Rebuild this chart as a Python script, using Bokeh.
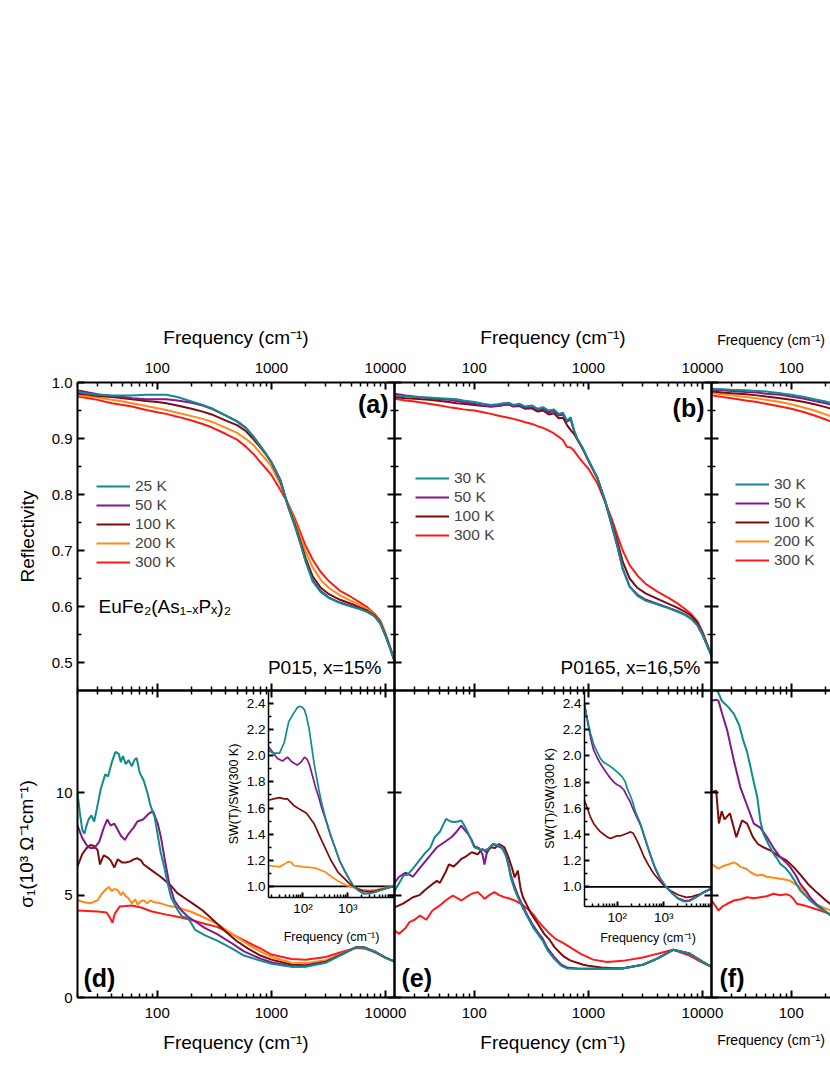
import math
from bokeh.plotting import figure
from bokeh.models import (Range1d, LogScale, LinearScale, LogAxis, LinearAxis, Grid,
                          FixedTicker, PrintfTickFormatter, Legend, LegendItem, Label)
from bokeh.embed import file_html
from bokeh.resources import INLINE

# ======================= DATA =======================
# ---- (a) reflectivity, P015 x=15% ----
FA = [20, 25, 30, 40, 50, 60, 80, 100, 120, 150, 200, 250, 300, 400, 500, 600, 700, 800, 900, 1000,
      1200, 1400, 1600, 1800, 2000, 2300, 2700, 3200, 4000, 5000, 6000, 7000, 8000, 9000, 10000, 11000, 12000]
RA_25 = [0.983, 0.980, 0.978, 0.977, 0.977, 0.977, 0.978, 0.978, 0.978, 0.974, 0.966, 0.960, 0.954, 0.941, 0.930,
         0.918, 0.902, 0.886, 0.872, 0.858, 0.826, 0.778, 0.745, 0.712, 0.680, 0.645, 0.626, 0.615, 0.606, 0.600,
         0.595, 0.590, 0.583, 0.570, 0.548, 0.525, 0.503]
RA_50 = [0.986, 0.982, 0.979, 0.976, 0.974, 0.972, 0.970, 0.970, 0.970, 0.968, 0.964, 0.959, 0.953, 0.941, 0.931,
         0.919, 0.903, 0.887, 0.872, 0.858, 0.826, 0.779, 0.745, 0.712, 0.681, 0.647, 0.628, 0.616, 0.607, 0.601,
         0.596, 0.590, 0.583, 0.570, 0.548, 0.525, 0.503]
RA_100 = [0.980, 0.978, 0.976, 0.974, 0.972, 0.970, 0.967, 0.965, 0.963, 0.959, 0.953, 0.948, 0.943, 0.932, 0.924,
          0.913, 0.898, 0.884, 0.871, 0.857, 0.824, 0.780, 0.748, 0.716, 0.686, 0.654, 0.634, 0.622, 0.612, 0.605,
          0.598, 0.592, 0.584, 0.571, 0.549, 0.526, 0.503]
RA_200 = [0.977, 0.975, 0.973, 0.969, 0.966, 0.963, 0.958, 0.954, 0.951, 0.946, 0.940, 0.935, 0.930, 0.919, 0.910,
          0.899, 0.888, 0.874, 0.862, 0.850, 0.818, 0.783, 0.752, 0.724, 0.698, 0.670, 0.648, 0.633, 0.620, 0.610,
          0.602, 0.595, 0.585, 0.573, 0.550, 0.526, 0.503]
RA_300 = [0.975, 0.972, 0.969, 0.963, 0.960, 0.957, 0.951, 0.947, 0.944, 0.939, 0.932, 0.926, 0.920, 0.908, 0.898,
          0.885, 0.872, 0.858, 0.846, 0.835, 0.808, 0.784, 0.758, 0.732, 0.708, 0.684, 0.662, 0.645, 0.628, 0.617,
          0.607, 0.598, 0.587, 0.575, 0.552, 0.527, 0.503]

# ---- (b) reflectivity, P0165 x=16.5% ----
FB = [20, 25, 30, 40, 50, 60, 70, 80, 100, 120, 140, 160, 180, 200, 220, 250, 280, 320, 360, 400, 450, 500, 550,
      600, 650, 700, 750, 800, 900, 1000, 1200, 1400, 1600, 1800, 2000, 2300, 2700, 3200, 4000, 5000, 6000, 7000,
      8000, 9000, 10000, 11000, 12000]
RB_30 = [0.977, 0.975, 0.974, 0.973, 0.972, 0.971, 0.970, 0.968, 0.965, 0.962, 0.960, 0.961, 0.963, 0.964, 0.960,
         0.962, 0.957, 0.959, 0.953, 0.956, 0.950, 0.952, 0.944, 0.946, 0.932, 0.938, 0.915, 0.900, 0.882, 0.862,
         0.830, 0.790, 0.748, 0.708, 0.668, 0.635, 0.619, 0.610, 0.604, 0.597, 0.591, 0.585, 0.578, 0.567, 0.550,
         0.530, 0.512]
RB_50 = [0.980, 0.977, 0.975, 0.972, 0.970, 0.969, 0.967, 0.965, 0.962, 0.959, 0.957, 0.958, 0.960, 0.961, 0.958,
         0.959, 0.955, 0.956, 0.951, 0.953, 0.947, 0.949, 0.941, 0.943, 0.930, 0.934, 0.913, 0.899, 0.881, 0.861,
         0.830, 0.788, 0.745, 0.706, 0.667, 0.636, 0.621, 0.612, 0.605, 0.598, 0.592, 0.586, 0.578, 0.567, 0.550,
         0.530, 0.512]
RB_100 = [0.974, 0.972, 0.971, 0.969, 0.967, 0.965, 0.963, 0.962, 0.960, 0.958, 0.957, 0.958, 0.960, 0.961, 0.957,
          0.958, 0.953, 0.954, 0.948, 0.950, 0.943, 0.945, 0.936, 0.937, 0.924, 0.915, 0.908, 0.898, 0.880, 0.860,
          0.829, 0.789, 0.750, 0.715, 0.680, 0.650, 0.633, 0.623, 0.614, 0.605, 0.598, 0.591, 0.583, 0.571, 0.552,
          0.531, 0.512]
RB_300 = [0.971, 0.968, 0.966, 0.962, 0.959, 0.956, 0.954, 0.952, 0.950, 0.947, 0.944, 0.941, 0.939, 0.937, 0.935,
          0.932, 0.929, 0.926, 0.922, 0.919, 0.914, 0.909, 0.903, 0.897, 0.885, 0.884, 0.878, 0.870, 0.857, 0.846,
          0.820, 0.787, 0.757, 0.726, 0.700, 0.674, 0.655, 0.640, 0.627, 0.616, 0.606, 0.596, 0.586, 0.574, 0.555,
          0.533, 0.514]

# ---- (c) reflectivity, third sample (visible part only) ----
FC = [20, 25, 30, 40, 50, 60, 80, 100, 130, 160, 200, 250]
RC_30 = [0.989, 0.988, 0.987, 0.986, 0.985, 0.984, 0.981, 0.978, 0.974, 0.970, 0.966, 0.960]
RC_50 = [0.987, 0.986, 0.985, 0.983, 0.982, 0.980, 0.978, 0.975, 0.971, 0.967, 0.963, 0.957]
RC_100 = [0.984, 0.982, 0.981, 0.979, 0.977, 0.975, 0.972, 0.969, 0.965, 0.961, 0.956, 0.950]
RC_200 = [0.981, 0.979, 0.977, 0.974, 0.972, 0.969, 0.965, 0.961, 0.955, 0.950, 0.943, 0.936]
RC_300 = [0.977, 0.974, 0.972, 0.968, 0.965, 0.962, 0.957, 0.953, 0.947, 0.941, 0.934, 0.926]

# ---- (d) sigma1 (10^3 Ohm^-1 cm^-1), P015 ----
FD_25 = [20, 21, 22, 23, 24, 25, 26.5, 28, 30, 32, 35, 37, 40, 43, 46, 48, 50, 53, 56, 60, 63, 66, 70, 76, 82,
         87, 95, 107, 115, 123, 132, 150, 165, 185, 200, 215, 260, 335, 450, 575, 800, 1000, 1500, 2000, 3000,
         4000, 5500, 6500, 8000, 10000, 12000]
SD_25 = [10.0, 9.0, 8.2, 8.0, 8.4, 8.7, 8.9, 8.6, 9.4, 10.2, 10.9, 10.8, 11.5, 12.0, 11.9, 11.5, 11.8, 11.4, 11.6,
         11.3, 11.6, 11.7, 11.0, 10.6, 10.0, 9.4, 8.8, 7.1, 6.4, 5.6, 4.9, 4.3, 3.95, 3.9, 3.6, 3.3, 3.05, 2.78,
         2.4, 2.05, 1.8, 1.65, 1.5, 1.5, 1.7, 2.05, 2.45, 2.45, 2.25, 1.95, 1.75]
FD_50 = [20, 22, 24, 26, 28, 31, 34, 36.5, 39, 42, 45, 48, 52, 56, 62, 67, 75, 85, 92, 101, 108, 115, 127, 141,
         160, 185, 210, 260, 335, 450, 575, 800, 1000, 1500, 2000, 3000, 4000, 5500, 6500, 8000, 10000, 12000]
SD_50 = [8.4, 7.8, 7.45, 7.3, 7.3, 7.6, 8.3, 8.7, 8.4, 8.5, 8.2, 7.9, 7.7, 8.0, 8.3, 8.6, 8.7, 9.0, 9.1, 8.5, 7.8,
         6.9, 5.6, 4.75, 4.3, 3.95, 3.75, 3.4, 3.1, 2.65, 2.25, 1.9, 1.72, 1.52, 1.52, 1.72, 2.07, 2.45, 2.45, 2.25,
         1.95, 1.75]
FD_100 = [20, 22, 24, 26, 28, 30, 31.5, 33, 34, 36.6, 39, 42, 45, 49, 53, 58, 62, 67, 72, 76, 90, 107, 130, 150,
          180, 210, 250, 294, 335, 410, 500, 620, 800, 1000, 1500, 2000, 3000, 4000, 5500, 6500, 8000, 10000, 12000]
SD_100 = [6.4, 7.0, 7.3, 7.45, 7.4, 7.2, 6.5, 6.8, 6.95, 6.85, 6.7, 6.35, 6.75, 6.6, 6.6, 6.65, 6.75, 6.8, 6.7,
          6.5, 6.2, 5.9, 5.5, 5.1, 4.8, 4.55, 4.25, 3.9, 3.6, 3.15, 2.75, 2.4, 2.05, 1.85, 1.6, 1.58, 1.75, 2.07,
          2.45, 2.45, 2.25, 1.95, 1.75]
FD_200 = [20, 23, 26, 30, 33, 35, 37.5, 40, 42, 45, 48, 50, 53, 56, 60, 64, 67, 72, 76, 82, 87, 95, 107, 123, 150,
          196, 255, 335, 410, 500, 620, 800, 1000, 1500, 2000, 3000, 4000, 5500, 6500, 8000, 10000, 12000]
SD_200 = [4.75, 4.65, 4.6, 4.75, 5.1, 5.25, 5.4, 5.2, 5.3, 5.25, 5.0, 5.15, 4.95, 4.85, 4.6, 4.8, 4.55, 4.7, 4.75,
          4.6, 4.75, 4.65, 4.6, 4.5, 4.4, 4.2, 3.92, 3.6, 3.27, 2.95, 2.6, 2.25, 1.98, 1.7, 1.68, 1.82, 2.1, 2.45,
          2.43, 2.23, 1.95, 1.75]
FD_300 = [20, 30, 36, 38.5, 40.5, 42.5, 47, 60, 72, 90, 120, 150, 196, 260, 335, 450, 620, 800, 1000, 1500, 2000,
          3000, 4000, 5500, 6500, 8000, 10000, 12000]
SD_300 = [4.25, 4.2, 4.15, 3.9, 3.65, 4.1, 4.45, 4.5, 4.4, 4.2, 4.05, 3.95, 3.8, 3.6, 3.45, 3.1, 2.7, 2.4, 2.1,
          1.88, 1.85, 1.98, 2.2, 2.42, 2.4, 2.22, 1.95, 1.75]

# ---- (e) sigma1, P0165 ----
FE_30 = [20, 22, 24, 26, 29, 33, 36.6, 41, 45, 50, 53, 56.6, 62, 67, 72, 77, 82, 87.7, 94, 100, 110, 123, 135,
         146, 160, 175, 190, 200, 210, 225, 241, 265, 294, 330, 360, 400, 440, 500, 575, 650, 800, 1040, 1500,
         2000, 3000, 3970, 5540, 7700, 10000, 12000]
SE_30 = [5.2, 5.6, 5.96, 6.0, 6.3, 6.7, 7.02, 7.3, 7.83, 8.1, 8.4, 8.73, 8.6, 8.57, 8.6, 8.65, 8.4, 8.08, 7.7,
         7.34, 7.25, 7.18, 7.3, 7.5, 7.45, 7.34, 6.9, 6.4, 5.8, 5.3, 4.9, 4.4, 3.92, 3.4, 3.11, 2.75, 2.3, 1.9,
         1.56, 1.42, 1.4, 1.4, 1.4, 1.42, 1.6, 1.89, 2.33, 2.15, 1.75, 1.5]
FE_50 = [20, 22, 25, 29, 33, 36.6, 42, 47, 55, 63, 70, 77, 82, 88, 95, 100, 110, 118, 123, 128, 135, 146, 160,
         175, 190, 200, 210, 225, 241, 265, 294, 330, 360, 400, 440, 500, 575, 650, 800, 1040, 1500, 2000, 3000,
         3970, 5540, 7700, 10000, 12000]
SE_50 = [5.6, 5.9, 6.1, 5.9, 6.3, 6.6, 7.0, 7.34, 7.6, 7.83, 8.1, 8.4, 8.2, 8.0, 7.7, 7.4, 7.3, 7.0, 6.5, 7.0,
         7.3, 7.5, 7.4, 7.3, 7.0, 6.5, 5.95, 5.45, 5.0, 4.5, 4.0, 3.5, 3.2, 2.85, 2.4, 2.0, 1.62, 1.47, 1.42, 1.41,
         1.4, 1.42, 1.6, 1.89, 2.33, 2.15, 1.75, 1.5]
FE_100 = [20, 24, 29, 33, 36.6, 42, 47, 50, 56, 60, 66, 72, 77, 85, 95, 107, 118, 128, 140, 152, 165, 184, 202,
          215, 226, 241, 255, 267, 290, 315, 360, 410, 460, 505, 560, 620, 700, 800, 900, 1000, 1300, 1700, 2000,
          3000, 3970, 5540, 7700, 10000, 12000]
SE_100 = [4.4, 4.6, 4.9, 5.0, 5.23, 5.5, 5.7, 5.6, 6.12, 6.5, 6.4, 6.6, 6.77, 6.9, 7.1, 7.0, 7.26, 7.1, 7.34, 7.3,
          7.5, 7.34, 6.77, 6.3, 5.87, 6.2, 5.3, 4.9, 4.5, 4.09, 3.6, 3.11, 2.8, 2.46, 2.2, 1.97, 1.8, 1.7, 1.6,
          1.55, 1.47, 1.43, 1.43, 1.6, 1.89, 2.33, 2.15, 1.75, 1.5]
FE_300 = [20, 22, 25, 27, 30, 33.5, 38, 43, 50, 56, 65, 77, 85, 95, 107, 115, 123, 135, 150, 165, 184, 200, 226,
          260, 294, 330, 360, 410, 460, 520, 620, 740, 858, 1100, 1460, 2000, 3000, 3970, 5540, 7700, 10000, 12000]
SE_300 = [3.27, 3.11, 3.4, 3.68, 3.8, 4.0, 3.8, 4.25, 4.5, 4.74, 4.98, 4.74, 4.9, 5.07, 5.15, 5.0, 4.82, 5.0,
          5.15, 5.0, 4.9, 4.85, 4.74, 4.55, 4.33, 4.05, 3.76, 3.4, 3.11, 2.85, 2.62, 2.35, 2.13, 1.85, 1.73, 1.79,
          1.95, 2.13, 2.33, 2.05, 1.7, 1.5]

# ---- (f) sigma1, third sample (visible part only) ----
FF_30 = [22.5, 24.6, 28, 31.4, 35, 38, 41, 44, 47, 50.4, 53.5, 57, 63, 70, 75, 80, 90, 98, 110, 120, 135, 146,
         170, 200, 240]
SF_30 = [15.0, 14.5, 14.2, 13.86, 13.3, 12.55, 12.0, 11.25, 10.5, 9.78, 8.65, 8.0, 7.5, 7.02, 6.8, 6.53, 6.3,
         6.04, 5.6, 5.23, 4.95, 4.74, 4.45, 4.2, 3.9]
FF_50 = [20, 22, 23, 25, 27.5, 31.4, 35.8, 41, 47, 53.5, 61, 70, 80, 90, 98, 110, 120, 135, 146, 170, 200, 240]
SF_50 = [14.5, 14.55, 14.5, 13.8, 13.04, 11.58, 10.27, 9.38, 8.5, 8.3, 7.85, 7.3, 6.86, 6.6, 6.37, 5.95, 5.55,
         5.2, 4.9, 4.5, 4.2, 3.85]
FF_100 = [20, 22, 23.2, 24.6, 26, 29, 33, 37, 41, 46, 51, 57, 66, 80, 91, 105, 120, 140, 170, 200, 240]
SF_100 = [10.03, 10.1, 8.5, 9.1, 8.7, 9.0, 7.83, 8.65, 8.5, 7.85, 7.5, 7.34, 7.18, 6.86, 6.7, 6.37, 6.0, 5.55,
          5.1, 4.75, 4.4]
FF_200 = [20, 23, 26, 28, 31.4, 34, 36, 40, 44, 50, 55, 61, 70, 80, 90, 98, 110, 120, 140, 160, 200, 240]
SF_200 = [6.53, 6.3, 6.45, 6.5, 6.6, 6.5, 6.37, 6.3, 6.12, 5.96, 6.0, 5.9, 5.85, 5.8, 5.75, 5.7, 5.5, 5.39, 5.0,
          4.58, 4.35, 4.2]
FF_300 = [20, 21.5, 23, 25, 27.5, 31.4, 36, 41, 47, 53.5, 61, 70, 80, 90, 98, 105, 112, 130, 146, 180, 240]
SF_300 = [4.74, 4.5, 4.25, 4.45, 4.58, 4.74, 4.8, 4.9, 4.85, 4.9, 4.95, 5.07, 5.0, 5.05, 4.98, 4.8, 4.58, 4.5,
          4.41, 4.25, 4.0]

# ---- inset of (d): SW(T)/SW(300 K) ----
FID_25 = [17, 22, 30, 38, 48, 58, 66, 75, 85, 98, 108, 120, 138, 155, 177, 200, 226, 260, 314, 400, 515, 650, 845,
          1100, 1360, 1700, 2230, 3000, 4000, 6000, 8000, 11000]
VD_25 = [2.04, 2.02, 2.02, 2.1, 2.26, 2.31, 2.34, 2.37, 2.38, 2.37, 2.35, 2.3, 2.2, 2.08, 1.94, 1.84, 1.74, 1.64,
         1.53, 1.41, 1.3, 1.2, 1.12, 1.05, 1.0, 0.97, 0.944, 0.945, 0.955, 0.975, 0.99, 1.0]
FID_50 = [17, 22, 27, 35, 45, 58, 74, 90, 108, 125, 140, 165, 190, 226, 262, 314, 420, 515, 650, 845, 1100, 1360,
          1700, 2230, 3000, 4000, 6000, 8000, 11000]
VD_50 = [2.07, 2.02, 1.98, 1.96, 1.99, 1.95, 1.93, 1.95, 1.99, 1.97, 1.93, 1.84, 1.76, 1.68, 1.6, 1.52, 1.38, 1.3,
         1.2, 1.12, 1.05, 1.0, 0.97, 0.947, 0.948, 0.957, 0.976, 0.99, 1.0]
FID_100 = [17, 22, 30, 38, 45, 62, 85, 120, 177, 262, 420, 600, 845, 1100, 1360, 1700, 2230, 3000, 4000, 6000,
           8000, 11000]
VD_100 = [1.66, 1.67, 1.68, 1.67, 1.67, 1.62, 1.59, 1.56, 1.48, 1.35, 1.2, 1.11, 1.06, 1.02, 1.0, 0.98, 0.965,
          0.96, 0.965, 0.98, 0.99, 1.0]
FID_200 = [17, 22, 30, 38, 48, 55, 62, 80, 100, 140, 190, 314, 450, 620, 900, 1360, 2000, 3000, 4500, 6500, 11000]
VD_200 = [1.16, 1.155, 1.15, 1.17, 1.19, 1.185, 1.16, 1.155, 1.15, 1.145, 1.14, 1.11, 1.07, 1.04, 1.01, 0.99,
          0.975, 0.97, 0.975, 0.99, 1.0]
FID_REF = [17, 11000]
VD_REF = [1.0, 1.0]

# ---- inset of (e) ----
FIE_30 = [20, 23, 27, 32, 37.4, 44, 52, 65, 85, 105, 129, 150, 165, 190, 210, 250, 318, 400, 515, 650, 830, 1130,
          1500, 2000, 2740, 3500, 5000, 7000, 10500]
VE_30 = [2.39, 2.28, 2.17, 2.08, 2.03, 1.98, 1.95, 1.93, 1.9, 1.87, 1.84, 1.8, 1.75, 1.7, 1.66, 1.57, 1.48, 1.37,
         1.25, 1.15, 1.07, 1.0, 0.95, 0.91, 0.887, 0.89, 0.92, 0.955, 0.985]
FIE_50 = [20, 23, 27, 31, 37, 44, 52, 65, 85, 100, 115, 140, 165, 190, 210, 250, 318, 400, 515, 650, 830, 1130,
          1500, 2000, 2740, 3500, 5000, 7000, 10500]
VE_50 = [2.4, 2.27, 2.14, 2.05, 1.99, 1.94, 1.9, 1.85, 1.8, 1.78, 1.77, 1.74, 1.69, 1.65, 1.61, 1.55, 1.47, 1.36,
         1.24, 1.14, 1.06, 0.995, 0.95, 0.915, 0.895, 0.897, 0.925, 0.96, 0.99]
FIE_100 = [20, 23, 27, 32, 37, 44, 52, 62, 72, 85, 100, 120, 140, 165, 194, 220, 270, 320, 375, 480, 610, 800,
           1000, 1400, 2000, 3000, 4000, 6000, 8000, 10500]
VE_100 = [1.66, 1.6, 1.53, 1.48, 1.45, 1.42, 1.4, 1.38, 1.37, 1.38, 1.39, 1.39, 1.4, 1.41, 1.42, 1.41, 1.35,
          1.29, 1.23, 1.16, 1.1, 1.05, 1.01, 0.97, 0.94, 0.92, 0.925, 0.945, 0.965, 0.985]
FIE_REF = [20, 10500]
VE_REF = [1.0, 1.0]

# tick values
F_MAJOR = [100, 1000, 10000]
F_MINOR = [20, 30, 40, 50, 60, 70, 80, 90, 200, 300, 400, 500, 600, 700, 800, 900,
           2000, 3000, 4000, 5000, 6000, 7000, 8000, 9000]
R_TICKS = [0.5, 0.6, 0.7, 0.8, 0.9, 1.0]
R_MINOR = [0.55, 0.65, 0.75, 0.85, 0.95]
S_TICKS = [0, 5, 10]
V_TICKS = [1.0, 1.2, 1.4, 1.6, 1.8, 2.0, 2.2, 2.4]
V_MINOR = [0.9, 1.1, 1.3, 1.5, 1.7, 1.9, 2.1, 2.3]
I_MAJOR = [100, 1000]
I_MINOR = [20, 30, 40, 50, 60, 70, 80, 90, 200, 300, 400, 500, 600, 700, 800, 900,
           2000, 3000, 4000, 5000, 6000, 7000, 8000, 9000, 10000]

# ======================= STYLE / LAYOUT =======================
TEAL, PURPLE, MAROON, ORANGE, RED = "#118b8b", "#84168e", "#7d0d0d", "#ff8a14", "#ff1a1a"
FONT = "Liberation Sans"
FREQ_TITLE = "Frequency (cm\u207b\u00b9)"

PX0, PY0 = 0, 0            # page offset of canvas (template has no body margin)
CW, CH = 830, 1060         # canvas size
COL_L = [77, 394, 711]     # left edge of each column frame (page px)
COL_W = 317
Y_TOP, Y_MID, Y_BOT = 382, 690, 997
F_LO, F_HI = 20, 12000
R_LO, R_HI = 0.45, 1.0
S_LO, S_HI = 0.0, 15.0
INS = {"d": dict(x0=268, x1=394, y0=690, y1=897, f=(17, 11000), v=(0.915, 2.5), title_off=11),
       "e": dict(x0=584, x1=711, y0=690, y1=906, f=(20, 10500), v=(0.85, 2.5), title_off=3)}


def log_range(px0, px1, v0, v1):
    a, b = math.log10(v0), math.log10(v1)
    k = (b - a) / (px1 - px0)
    return Range1d(10 ** (a + (PX0 - px0) * k), 10 ** (a + (PX0 + CW - px0) * k))


def lin_yrange(py_top, py_bot, v_top, v_bot):
    k = (v_top - v_bot) / (py_bot - py_top)
    return Range1d(v_bot - (PY0 + CH - py_bot) * k, v_top + (py_top - PY0) * k)


def fx(col, px):
    return 10 ** (math.log10(F_LO) + (px - COL_L[col]) / COL_W * math.log10(F_HI / F_LO))


def ry(py):
    return R_HI - (py - Y_TOP) / (Y_MID - Y_TOP) * (R_HI - R_LO)


def sy(py):
    return S_HI - (py - Y_MID) / (Y_BOT - Y_MID) * (S_HI - S_LO)


p = figure(width=CW, height=CH, x_range=Range1d(0, 1), y_range=Range1d(0, 1),
           x_axis_location=None, y_axis_location=None, toolbar_location=None,
           output_backend="svg", min_border=0)
p.outline_line_color = None
p.background_fill_color = "white"
p.border_fill_color = "white"
p.center = [r for r in p.center if not isinstance(r, Grid)]

xr = {f"c{k}": log_range(COL_L[k], COL_L[k] + COL_W, F_LO, F_HI) for k in range(3)}
for key, ins in INS.items():
    xr["i" + key] = log_range(ins["x0"], ins["x1"], *ins["f"])
p.extra_x_ranges = xr
p.extra_x_scales = {name: LogScale() for name in xr}
yr = {"R": lin_yrange(Y_TOP, Y_MID, R_HI, R_LO), "S": lin_yrange(Y_MID, Y_BOT, S_HI, S_LO)}
for key, ins in INS.items():
    yr["v" + key] = lin_yrange(ins["y0"], ins["y1"], ins["v"][1], ins["v"][0])
p.extra_y_ranges = yr
p.extra_y_scales = {name: LinearScale() for name in yr}


def draw(series, xname, yname, width=2.0):
    out = {}
    for label, xs, ys, color in series:
        out[label] = p.line(xs, ys, x_range_name=xname, y_range_name=yname,
                            line_color=color, line_width=width)
    return out


rs_a = draw([("300 K", FA, RA_300, RED), ("200 K", FA, RA_200, ORANGE), ("100 K", FA, RA_100, MAROON),
             ("50 K", FA, RA_50, PURPLE), ("25 K", FA, RA_25, TEAL)], "c0", "R")
rs_b = draw([("300 K", FB, RB_300, RED), ("100 K", FB, RB_100, MAROON),
             ("50 K", FB, RB_50, PURPLE), ("30 K", FB, RB_30, TEAL)], "c1", "R")
rs_c = draw([("300 K", FC, RC_300, RED), ("200 K", FC, RC_200, ORANGE), ("100 K", FC, RC_100, MAROON),
             ("50 K", FC, RC_50, PURPLE), ("30 K", FC, RC_30, TEAL)], "c2", "R")
draw([("300 K", FD_300, SD_300, RED), ("200 K", FD_200, SD_200, ORANGE), ("100 K", FD_100, SD_100, MAROON),
      ("50 K", FD_50, SD_50, PURPLE), ("25 K", FD_25, SD_25, TEAL)], "c0", "S")
draw([("300 K", FE_300, SE_300, RED), ("100 K", FE_100, SE_100, MAROON),
      ("50 K", FE_50, SE_50, PURPLE), ("30 K", FE_30, SE_30, TEAL)], "c1", "S")
draw([("300 K", FF_300, SF_300, RED), ("200 K", FF_200, SF_200, ORANGE), ("100 K", FF_100, SF_100, MAROON),
      ("50 K", FF_50, SF_50, PURPLE), ("30 K", FF_30, SF_30, TEAL)], "c2", "S")
draw([("300 K", FID_REF, VD_REF, "black"), ("200 K", FID_200, VD_200, ORANGE), ("100 K", FID_100, VD_100, MAROON),
      ("50 K", FID_50, VD_50, PURPLE), ("25 K", FID_25, VD_25, TEAL)], "id", "vd", 1.7)
draw([("300 K", FIE_REF, VE_REF, "black"), ("100 K", FIE_100, VE_100, MAROON),
      ("50 K", FIE_50, VE_50, PURPLE), ("30 K", FIE_30, VE_30, TEAL)], "ie", "ve", 1.7)


# ---------------- axes ----------------
def style(ax, tick_size="15px", title_size="19px", maj=7, mnr=4):
    ax.axis_line_width = 2
    ax.axis_line_color = "black"
    ax.major_tick_line_width = 2
    ax.minor_tick_line_width = 1.5
    ax.major_tick_line_color = "black"
    ax.minor_tick_line_color = "black"
    ax.major_tick_in = maj
    ax.major_tick_out = 0
    ax.minor_tick_in = mnr
    ax.minor_tick_out = 0
    ax.major_label_text_font = FONT
    ax.major_label_text_font_size = tick_size
    ax.major_label_text_color = "black"
    ax.axis_label_text_font = FONT
    ax.axis_label_text_font_size = title_size
    ax.axis_label_text_font_style = "normal"
    ax.axis_label_text_color = "black"


def freq_axis(k, yname, yloc, side, labels, title=None, lab_off=6, title_off=10):
    majors = F_MAJOR if k < 2 else [100]
    ax = LogAxis(x_range_name=f"c{k}", y_range_name=yname, fixed_location=yloc, bounds=(F_LO, F_HI),
                 ticker=FixedTicker(ticks=majors, minor_ticks=F_MINOR))
    style(ax)
    ax.major_label_overrides = {m: (str(m) if labels else "") for m in majors}
    ax.major_label_standoff = lab_off
    if title:
        ax.axis_label = title
        ax.axis_label_standoff = title_off
        if k == 2:   # the third column is cut by the page edge: keep its title inside
            ax.axis_label_text_font_size = "14px"
    p.add_layout(ax, side)


def val_axis(k, yname, side, ticks, minor, fmt, bounds, labels, title=None, title_off=10):
    xloc = F_LO if side == "left" else F_HI
    ax = LinearAxis(x_range_name=f"c{k}", y_range_name=yname, fixed_location=xloc, bounds=bounds,
                    ticker=FixedTicker(ticks=ticks, minor_ticks=minor),
                    formatter=PrintfTickFormatter(format=fmt))
    style(ax)
    ax.major_label_standoff = 5
    if not labels:
        ax.major_label_overrides = {t: "" for t in ticks}
    if title:
        ax.axis_label = title
        ax.axis_label_standoff = title_off
    p.add_layout(ax, side)


for k in range(3):
    freq_axis(k, "R", R_HI, "above", True, FREQ_TITLE, 10, 12)
    freq_axis(k, "R", R_LO, "below", False)
    freq_axis(k, "S", S_HI, "above", False)
    freq_axis(k, "S", S_LO, "below", True, FREQ_TITLE, 10, 11)
    val_axis(k, "R", "left", R_TICKS, R_MINOR, "%.1f", (R_LO, R_HI), k == 0,
             "Reflectivity" if k == 0 else None, 11)
    val_axis(k, "S", "left", S_TICKS, [], "%d", (S_LO, S_HI), k == 0,
             "\u03c3\u2081(10\u00b3 \u03a9\u207b\u00b9cm\u207b\u00b9)" if k == 0 else None, 16)
    if k < 2:
        val_axis(k, "R", "right", R_TICKS, R_MINOR, "%.1f", (R_LO, R_HI), False)
        val_axis(k, "S", "right", S_TICKS, [], "%d", (S_LO, S_HI), False)

for key, ins in INS.items():
    f0, f1 = ins["f"]
    v0, v1 = ins["v"]
    ly = LinearAxis(x_range_name="i" + key, y_range_name="v" + key, fixed_location=f0, bounds=(v0, v1),
                    ticker=FixedTicker(ticks=V_TICKS, minor_ticks=[m for m in V_MINOR if m > v0]),
                    formatter=PrintfTickFormatter(format="%.1f"))
    style(ly, "13.5px", "12.5px", 5, 3)
    ly.axis_line_width = 1.5
    ly.major_label_standoff = 3
    ly.axis_label = "SW(T)/SW(300 K)"
    ly.axis_label_standoff = 3
    p.add_layout(ly, "left")
    lx = LogAxis(x_range_name="i" + key, y_range_name="v" + key, fixed_location=v0, bounds=(f0, f1),
                 ticker=FixedTicker(ticks=I_MAJOR, minor_ticks=[m for m in I_MINOR if f0 < m < f1]))
    style(lx, "13.5px", "12.5px", 5, 3)
    lx.axis_line_width = 1.5
    lx.major_label_overrides = {100: "10\u00b2", 1000: "10\u00b3"}
    lx.major_label_standoff = 3
    lx.axis_label = FREQ_TITLE
    lx.axis_label_standoff = ins["title_off"]
    p.add_layout(lx, "below")


# ---------------- legends ----------------
ITEM_H, SPACING = 18, 1


def add_legend(rs, order, px_left, py_first):
    n = len(order)
    top = py_first - ITEM_H / 2
    bottom = top + n * ITEM_H + (n - 1) * SPACING
    leg = Legend(items=[LegendItem(label=lab, renderers=[rs[lab]]) for lab in order],
                 location=(px_left - PX0, PY0 + CH - bottom))
    leg.border_line_color = None
    leg.background_fill_alpha = 0
    leg.padding = 0
    leg.margin = 0
    leg.spacing = SPACING
    leg.glyph_width = 34
    leg.glyph_height = ITEM_H
    leg.label_height = ITEM_H
    leg.label_standoff = 5
    leg.label_text_font = FONT
    leg.label_text_font_size = "15.5px"
    leg.label_text_baseline = "middle"
    p.add_layout(leg)


add_legend(rs_a, ["25 K", "50 K", "100 K", "200 K", "300 K"], 96, 485.5)
add_legend(rs_b, ["30 K", "50 K", "100 K", "300 K"], 415, 477.5)
add_legend(rs_c, ["30 K", "50 K", "100 K", "200 K", "300 K"], 735, 484)


# ---------------- text annotations ----------------
def label(text, x, y, xname, yname, size, align="left", bold=False):
    p.add_layout(Label(x=x, y=y, x_range_name=xname, y_range_name=yname, text=text,
                       text_font=FONT, text_font_size=size, text_align=align,
                       text_baseline="middle", text_color="black",
                       text_font_style="bold" if bold else "normal"))


label("(a)", fx(0, 388), ry(403.5), "c0", "R", "25px", "right", True)
label("(b)", fx(1, 704), ry(407), "c1", "R", "25px", "right", True)
label("(d)", fx(0, 83), sy(977), "c0", "S", "25px", "left", True)
label("(e)", fx(1, 401), sy(977), "c1", "S", "25px", "left", True)
label("(f)", fx(2, 719), sy(977), "c2", "S", "25px", "left", True)
label("EuFe\u2082(As\u2081\u208b\u2093P\u2093)\u2082", fx(0, 98), ry(606), "c0", "R", "19px")
label("P015, x=15%", fx(0, 381), ry(666.5), "c0", "R", "19px", "right")
label("P0165, x=16,5%", fx(1, 700), ry(666.5), "c1", "R", "19px", "right")

open("out.html", "w").write(file_html(p, INLINE))
